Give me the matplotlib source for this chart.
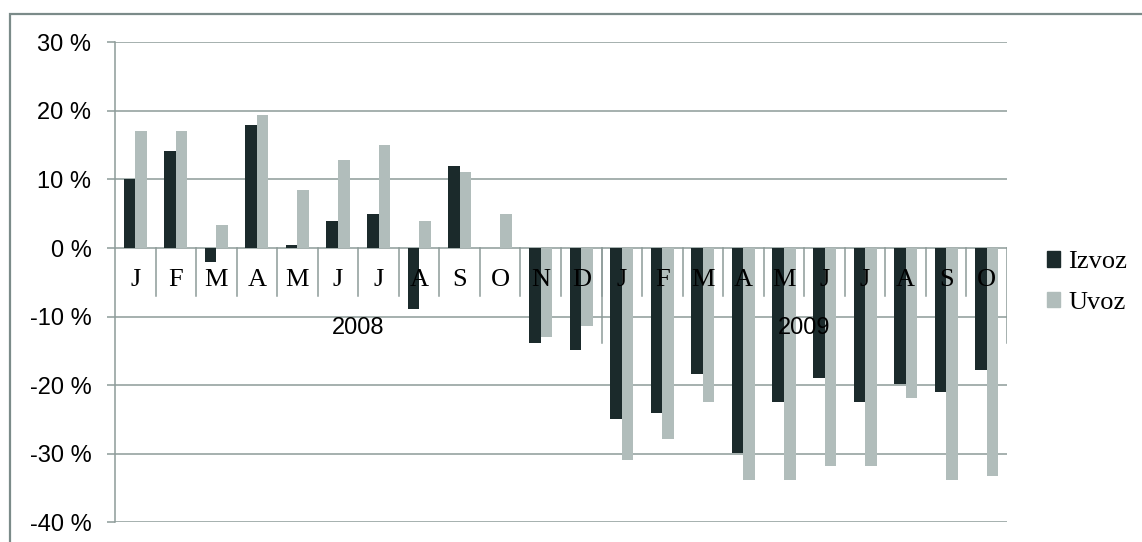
import matplotlib.pyplot as plt
from matplotlib.patches import Rectangle, Patch
import numpy as np

# monthly change, 2008-01 .. 2009-10
months = ["J", "F", "M", "A", "M", "J", "J", "A", "S", "O", "N", "D",
          "J", "F", "M", "A", "M", "J", "J", "A", "S", "O"]
years = ["2008", "2009"]
year_sizes = [12, 10]
izvoz = [10.0, 14.1, -2.0, 18.0, 0.4, 4.0, 4.9, -8.9, 12.0, 0.0, -13.9, -14.8,
         -24.9, -24.0, -18.4, -29.9, -22.5, -18.9, -22.5, -19.9, -21.0, -17.8]
uvoz = [17.0, 17.0, 3.4, 19.4, 8.5, 12.9, 15.0, 4.0, 11.1, 4.9, -13.0, -11.4,
        -30.9, -27.9, -22.5, -33.9, -33.9, -31.8, -31.8, -21.9, -33.9, -33.3]

dark = "#1b2a2b"
light = "#b1bdbb"
grid = "#8d9b99"

fig = plt.figure(figsize=(11.42, 5.42), dpi=100)
ax = fig.add_axes([115 / 1142, 19.7 / 542, 892 / 1142, 480 / 542])

n = len(months)
x = np.arange(n) + 0.5
w = 1 / 3.5
ax.bar(x - w / 2, izvoz, w, color=dark, zorder=3)
ax.bar(x + w / 2, uvoz, w, color=light, zorder=3)

ax.set_xlim(0, n)
ax.set_ylim(-40, 30)
ax.set_yticks(range(-40, 31, 10))
ax.set_yticklabels([f"{v} %" for v in range(-40, 31, 10)],
                   family="Liberation Sans", fontsize=17)
ax.tick_params(axis="y", length=6, width=1.1, color=grid, pad=11)
ax.set_xticks([])
for y in range(-40, 31, 10):
    ax.axhline(y, color=grid, lw=1.1, zorder=1)

for s in ["top", "right", "bottom"]:
    ax.spines[s].set_visible(False)
ax.spines["left"].set_color(grid)
ax.spines["left"].set_linewidth(1.1)

# month labels and separators below the zero line
for i, m in enumerate(months):
    ax.text(i + 0.5, -4.7, m, ha="center", va="center",
            family="Liberation Serif", fontsize=19, zorder=5)
for i in range(1, n):
    ax.plot([i, i], [0, -7.0], color=grid, lw=1.1, zorder=2)

start = 0
for yr, size in zip(years, year_sizes):
    ax.text(start + size / 2, -11.6, yr, ha="center", va="center",
            family="Liberation Sans", fontsize=17, zorder=5)
    start += size
    ax.plot([start, start], [0, -13.8], color=grid, lw=1.1, zorder=2)

handles = [Patch(color=dark, label="Izvoz"), Patch(color=light, label="Uvoz")]
fig.legend(handles=handles, loc="center left",
           bbox_to_anchor=(1047 / 1142, 1 - 282.5 / 542),
           frameon=False, prop={"family": "Liberation Serif", "size": 19},
           handlelength=0.5, handleheight=0.53, handletextpad=0.3,
           labelspacing=0.7, borderpad=0, borderaxespad=0)

# outer chart frame
fig.add_artist(Rectangle((10 / 1142, -0.1), 1.2, 1 - 14 / 542 + 0.1,
                         transform=fig.transFigure, fill=False,
                         edgecolor="#7b8b89", lw=1.6))

fig.savefig("out.png", dpi=100)
